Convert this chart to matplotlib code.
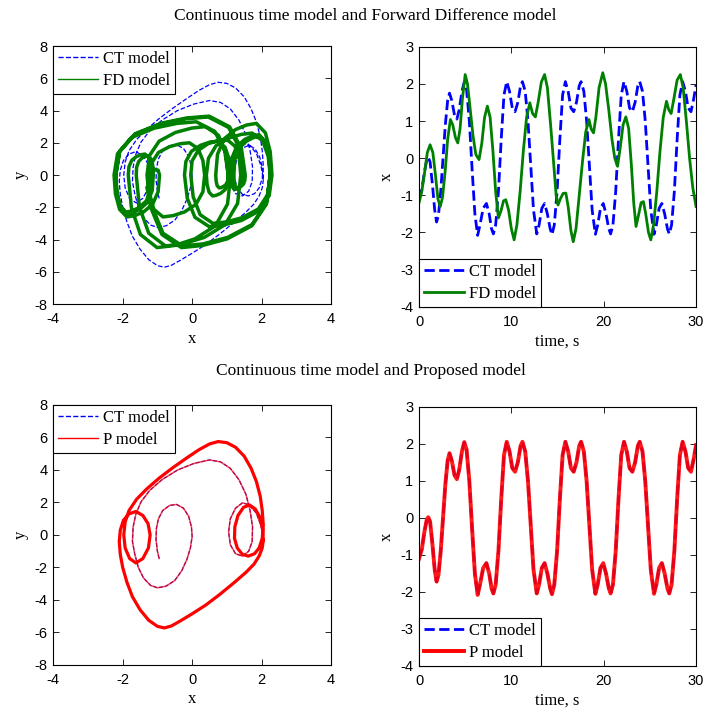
import matplotlib
matplotlib.use("Agg")
import matplotlib.pyplot as plt

plt.rcParams['font.family'] = 'Liberation Serif'
plt.rcParams['axes.unicode_minus'] = False

# ---- time series, continuous time model (same in both rows) ----
ct_t = [0.0, 0.3, 0.6, 0.85, 1.0, 1.2, 1.45, 1.7, 1.9, 2.1, 2.35, 2.6, 2.85, 3.1, 3.3,
        3.55, 3.85, 4.1, 4.35, 4.65, 4.9, 5.15, 5.45, 5.75, 6.05, 6.35, 6.6, 6.95, 7.3,
        7.6, 7.85, 8.05, 8.3, 8.6, 8.9, 9.2, 9.5, 9.8, 10.1, 10.4, 10.7, 11.0, 11.2, 11.5,
        11.8, 12.1, 12.4, 12.75, 13.0, 13.3, 13.6, 13.9, 14.2, 14.4, 14.65, 14.95, 15.25,
        15.55, 15.85, 16.15, 16.45, 16.75, 17.05, 17.35, 17.55, 17.85, 18.15, 18.45, 18.75,
        19.1, 19.35, 19.65, 19.95, 20.25, 20.55, 20.75, 21.0, 21.3, 21.6, 21.9, 22.2, 22.5,
        22.8, 23.1, 23.4, 23.7, 23.9, 24.2, 24.5, 24.8, 25.1, 25.45, 25.7, 26.0, 26.3, 26.6,
        26.9, 27.1, 27.35, 27.65, 27.95, 28.25, 28.55, 28.85, 29.15, 29.45, 29.75, 30.0]
ct_x = [-1.1, -0.85, -0.35, -0.03, 0.02, -0.1, -0.7, -1.4, -1.72, -1.55, -0.9, 0.0, 0.9, 1.55, 1.75,
        1.55, 1.15, 1.05, 1.3, 1.8, 2.05, 1.85, 1.0, -0.3, -1.5, -2.08, -1.8, -1.35, -1.22,
        -1.5, -1.9, -2.04, -1.8, -0.9, 0.5, 1.7, 2.06, 1.8, 1.35, 1.25, 1.5, 1.95, 2.06, 1.8,
        1.0, -0.2, -1.4, -2.04, -1.8, -1.35, -1.22, -1.5, -1.9, -2.06, -1.8, -0.9, 0.5,
        1.7, 2.06, 1.8, 1.35, 1.25, 1.5, 1.95, 2.06, 1.8, 1.0, -0.2, -1.4,
        -2.05, -1.8, -1.35, -1.22, -1.5, -1.9, -2.04, -1.8, -0.9, 0.5, 1.7, 2.06, 1.8,
        1.35, 1.25, 1.5, 1.95, 2.06, 1.8, 1.0, -0.2, -1.4, -2.05, -1.8, -1.35, -1.22, -1.5,
        -1.9, -2.04, -1.8, -0.9, 0.5, 1.7, 2.06, 1.8, 1.35, 1.25, 1.6, 1.97]

# ---- time series, forward difference model ----
fd_t = [0.0, 0.3, 0.6, 0.9, 1.2, 1.5, 1.8, 2.05, 2.3, 2.55, 2.85, 3.1, 3.4, 3.65, 3.95,
        4.2, 4.45, 4.7, 5.0, 5.25, 5.55, 5.85, 6.15, 6.5, 6.8, 7.1, 7.4, 7.7, 8.0, 8.3,
        8.6, 8.9, 9.15, 9.4, 9.7, 10.0, 10.3, 10.6, 10.95, 11.3, 11.65, 12.0, 12.3, 12.6,
        12.9, 13.25, 13.6, 13.9, 14.25, 14.6, 14.85, 15.05, 15.3, 15.6, 15.9, 16.15, 16.45,
        16.7, 17.0, 17.35, 17.7, 18.05, 18.4, 18.65, 18.9, 19.15, 19.5, 19.9, 20.2, 20.55,
        20.9, 21.2, 21.5, 21.8, 22.1, 22.4, 22.7, 23.0, 23.25, 23.5, 23.8, 24.05, 24.3,
        24.55, 24.85, 25.1, 25.4, 25.75, 26.1, 26.45, 26.8, 27.05, 27.3, 27.6, 27.95,
        28.3, 28.6, 28.95, 29.3, 29.65, 30.0]
fd_x = [-1.2, -0.9, -0.4, 0.15, 0.36, 0.15, -0.5, -1.1, -1.3, -1.05, -0.3, 0.5, 1.04, 0.9, 0.55,
        0.41, 0.8, 1.6, 2.25, 2.0, 1.3, 0.6, 0.1, -0.04, 0.4, 1.1, 1.4, 1.1, 0.2, -0.9,
        -1.61, -1.4, -1.15, -1.12, -1.4, -1.9, -2.2, -1.8, -0.9, 0.2, 1.1, 1.49, 1.2, 1.11,
        1.5, 2.05, 2.25, 1.9, 0.9, -0.2, -1.0, -1.26, -1.1, -0.95, -0.94, -1.3, -1.95,
        -2.25, -1.9, -1.0, -0.1, 0.7, 1.04, 0.78, 0.68, 1.1, 1.9, 2.3, 2.0, 1.3,
        0.5, 0.0, -0.22, 0.3, 0.9, 1.11, 0.8, -0.2, -1.2, -1.84, -1.5, -1.2, -1.17,
        -1.5, -2.0, -2.2, -1.8, -0.9, 0.2, 1.1, 1.53, 1.3, 1.2, 1.6, 2.1,
        2.25, 1.9, 1.0, 0.0, -0.8, -1.3]

# ---- phase portrait, continuous time model: transient part ----
ct_px = [-0.95, -1.0, -1.04, -1.03, -0.97, -0.85, -0.65, -0.45, -0.25, -0.1, -0.02, 0.0, -0.05,
         -0.15, -0.3, -0.5, -0.75, -1.0, -1.2, -1.4, -1.55, -1.65, -1.72, -1.7, -1.62, -1.47,
         -1.22, -0.87, -0.42, 0.05, 0.5, 0.82, 1.1, 1.35, 1.55, 1.67, 1.74, 1.73, 1.63, 1.45,
         1.25, 1.1, 1.05, 1.1, 1.25, 1.45, 1.65, 1.85, 1.98, 2.05]
ct_py = [-1.45, -1.0, -0.3, 0.4, 1.0, 1.5, 1.82, 1.88, 1.65, 1.15, 0.5, -0.1, -0.8,
         -1.5, -2.2, -2.8, -3.15, -3.25, -3.1, -2.65, -2.0, -1.2, -0.4, 0.5, 1.3, 2.05,
         2.75, 3.4, 4.0, 4.4, 4.62, 4.5, 4.1, 3.4, 2.5, 1.5, 0.5, -0.4, -1.0, -1.3,
         -1.15, -0.6, 0.2, 1.0, 1.65, 1.98, 1.85, 1.35, 0.6, -0.2]
# ---- phase portrait, continuous time model: periodic orbit ----
cyc_px = [2.05, 2.02, 1.93, 1.78, 1.55, 1.2, 0.8, 0.4, 0.0, -0.35, -0.6, -0.8, -1.0, -1.25,
          -1.5, -1.72, -1.88, -2.0, -2.07, -2.1, -2.07, -1.98, -1.82, -1.62, -1.42, -1.27,
          -1.21, -1.26, -1.42, -1.62, -1.8, -1.93, -1.97, -1.93, -1.82, -1.6, -1.3, -0.95,
          -0.55, -0.15, 0.2, 0.5, 0.75, 1.0, 1.25, 1.5, 1.7, 1.85, 1.96, 2.02, 2.05, 2.02,
          1.93, 1.8, 1.62, 1.45, 1.3, 1.22, 1.23, 1.32, 1.48, 1.65, 1.82, 1.95, 2.03, 2.05]
cyc_py = [-0.3, -0.8, -1.3, -1.8, -2.3, -2.95, -3.65, -4.3, -4.85, -5.3, -5.6, -5.72, -5.62,
          -5.25, -4.6, -3.8, -2.9, -2.0, -1.2, -0.4, 0.3, 0.9, 1.3, 1.45, 1.2, 0.7,
          0.0, -0.8, -1.45, -1.72, -1.45, -0.8, 0.0, 0.8, 1.5, 2.2, 2.85, 3.5,
          4.15, 4.75, 5.25, 5.6, 5.75, 5.68, 5.4, 4.85, 4.1, 3.3, 2.4, 1.5, 0.6, -0.2,
          -0.8, -1.15, -1.3, -1.2, -0.8, -0.2, 0.5, 1.2, 1.7, 1.85, 1.6, 1.1, 0.4, -0.3]

# ---- phase portrait, forward difference model ----
fd_px = [-1.2, -1.15, -0.97, -0.65, -0.34, -0.08, 0.17, 0.31, 0.36,
         0.31, 0.11, -0.22, -0.55, -0.84, -1.10, -1.25, -1.3,
         -1.23, -0.95, -0.48, -0.01, 0.38, 0.76, 0.97, 1.04,
         1.02, 0.95, 0.82, 0.69, 0.59, 0.49, 0.43, 0.41,
         0.47, 0.69, 1.05, 1.42, 1.73, 2.03, 2.19, 2.25,
         2.18, 1.91, 1.45, 0.99, 0.6, 0.23, 0.03, -0.04,
         0.0, 0.18, 0.46, 0.75, 1.0, 1.23, 1.36, 1.4,
         1.31, 0.95, 0.35, -0.26, -0.77, -1.25, -1.52, -1.61,
         -1.6, -1.54, -1.44, -1.34, -1.26, -1.18, -1.13, -1.12,
         -1.15, -1.28, -1.5, -1.71, -1.9, -2.07, -2.17, -2.2,
         -2.09, -1.65, -0.91, -0.17, 0.46, 1.05, 1.38, 1.49,
         1.48, 1.43, 1.36, 1.28, 1.22, 1.16, 1.12, 1.11,
         1.14, 1.28, 1.51, 1.74, 1.93, 2.11, 2.22, 2.25,
         2.14, 1.72, 1.02, 0.32, -0.28, -0.84, -1.15, -1.26,
         -1.2, -1.08, -0.98, -0.94,
         -0.98, -1.14, -1.4, -1.66, -1.88, -2.09, -2.21, -2.25,
         -2.15, -1.76, -1.1, -0.44, 0.12, 0.65, 0.94, 1.04,
         1.03, 0.99, 0.91, 0.84, 0.78, 0.72, 0.69, 0.68,
         0.73, 0.92, 1.25, 1.57, 1.85, 2.11, 2.25, 2.3,
         2.22, 1.92, 1.42, 0.91, 0.49, 0.08, -0.14, -0.22,
         -0.18, -0.02, 0.25, 0.51, 0.74, 0.95, 1.07, 1.11,
         1.02, 0.67, 0.08, -0.51, -1.01, -1.49, -1.75, -1.84,
         -1.82, -1.74, -1.61, -1.47, -1.36, -1.25, -1.19, -1.17,
         -1.2, -1.32, -1.53, -1.74, -1.91, -2.08, -2.17, -2.2,
         -2.09, -1.64, -0.89, -0.15, 0.49, 1.08, 1.42, 1.53,
         1.52, 1.48, 1.41, 1.35, 1.29, 1.24, 1.21, 1.2,
         1.23, 1.36, 1.57, 1.78, 1.96, 2.12, 2.22, 2.25,
         2.14, 1.72, 1.01, 0.3, -0.31, -0.87, -1.19, -1.3]
fd_py = [0.0, 0.8, 1.4, 1.76, 1.94, 2.0, 1.64, 0.9, 0.0,
         -1.04, -1.82, -2.29, -2.52, -2.6, -2.13, -1.17, 0.0,
         1.2, 2.1, 2.64, 2.91, 3.0, 2.46, 1.35, 0.0,
         -0.52, -0.91, -1.14, -1.26, -1.3, -1.07, -0.59, 0.0,
         1.04, 1.82, 2.29, 2.52, 2.6, 2.13, 1.17, 0.0,
         -1.2, -2.1, -2.64, -2.91, -3.0, -2.46, -1.35, 0.0,
         0.88, 1.54, 1.94, 2.13, 2.2, 1.8, 0.99, 0.0,
         -1.76, -3.08, -3.87, -4.27, -4.4, -3.61, -1.98, 0.0,
         0.48, 0.84, 1.06, 1.16, 1.2, 0.98, 0.54, 0.0,
         -0.96, -1.68, -2.11, -2.33, -2.4, -1.97, -1.08, 0.0,
         1.44, 2.52, 3.17, 3.49, 3.6, 2.95, 1.62, 0.0,
         -0.36, -0.63, -0.79, -0.87, -0.9, -0.74, -0.41, 0.0,
         1.0, 1.75, 2.2, 2.43, 2.5, 2.05, 1.13, 0.0,
         -1.76, -3.08, -3.87, -4.27, -4.4, -3.61, -1.98, -0.6,
         0.0, 0.35, 0.3, 0.0,
         -1.04, -1.82, -2.29, -2.52, -2.6, -2.13, -1.17, 0.0,
         1.32, 2.31, 2.9, 3.2, 3.3, 2.71, 1.49, 0.0,
         -0.32, -0.56, -0.7, -0.78, -0.8, -0.66, -0.36, 0.0,
         1.28, 2.24, 2.82, 3.1, 3.2, 2.62, 1.44, 0.0,
         -1.28, -2.24, -2.82, -3.1, -3.2, -2.62, -1.44, 0.0,
         0.84, 1.47, 1.85, 2.04, 2.1, 1.72, 0.95, 0.0,
         -1.8, -3.15, -3.96, -4.37, -4.5, -3.69, -2.03, 0.0,
         0.52, 0.91, 1.14, 1.26, 1.3, 1.07, 0.59, 0.0,
         -0.92, -1.61, -2.02, -2.23, -2.3, -1.89, -1.04, 0.0,
         1.46, 2.56, 3.21, 3.54, 3.65, 2.99, 1.64, 0.0,
         -0.32, -0.56, -0.7, -0.78, -0.8, -0.66, -0.36, 0.0,
         0.96, 1.68, 2.11, 2.33, 2.4, 1.97, 1.08, 0.0,
         -1.8, -3.15, -3.96, -4.37, -4.5, -3.69, -2.03, -0.8]

BLUE = '#0000ff'
GREEN = '#008000'
RED = '#ff0000'

fig = plt.figure(figsize=(7.06, 7.11), dpi=100)
ax1 = fig.add_axes([0.0755, 0.5724, 0.3933, 0.3629])
ax2 = fig.add_axes([0.5935, 0.5686, 0.3924, 0.3657])
ax3 = fig.add_axes([0.0755, 0.0647, 0.3933, 0.3657])
ax4 = fig.add_axes([0.5935, 0.0633, 0.3924, 0.3643])


def style(ax, xlim, ylim, xt, yt, xlab, ylab):
    ax.set_xlim(xlim)
    ax.set_ylim(ylim)
    ax.set_xticks(xt)
    ax.set_yticks(yt)
    ax.tick_params(direction='in', top=True, right=True, length=4, width=0.6,
                   labelsize=10.5)
    ax.tick_params(axis='x', pad=6)
    ax.tick_params(axis='y', pad=4)
    for lab in ax.get_xticklabels() + ax.get_yticklabels():
        lab.set_family('Liberation Sans')
    for s in ax.spines.values():
        s.set_linewidth(0.8)
    ax.set_xlabel(xlab, fontsize=12, labelpad=3)
    ax.set_ylabel(ylab, fontsize=12, labelpad=4)


def legend(ax, loc):
    leg = ax.legend(loc=loc, fontsize=12, borderaxespad=0, fancybox=False,
                    edgecolor='black', framealpha=1, handlelength=2.4,
                    borderpad=0.3, labelspacing=0.35, handletextpad=0.3)
    leg.get_frame().set_linewidth(0.8)
    return leg


# top left: phase portrait CT vs FD
ax1.plot(ct_px + cyc_px, ct_py + cyc_py, '--', color=BLUE, lw=0.9, label='CT model')
ax1.plot(fd_px, fd_py, '-', color=GREEN, lw=2.5, label='FD model')
style(ax1, (-4, 4), (-8, 8), [-4, -2, 0, 2, 4], range(-8, 9, 2), 'x', 'y')
leg = legend(ax1, 'upper left')
for h in leg.get_lines():
    h.set_linewidth(1.0)

# top right: time series CT vs FD
ax2.plot(ct_t, ct_x, '--', color=BLUE, lw=2, label='CT model')
ax2.plot(fd_t, fd_x, '-', color=GREEN, lw=2, label='FD model')
style(ax2, (0, 30), (-4, 3), [0, 10, 20, 30], range(-4, 4), 'time, s', 'x')
legend(ax2, 'lower left')

# bottom left: phase portrait CT vs P
ax3.plot(ct_px + cyc_px, ct_py + cyc_py, '--', color=BLUE, lw=0.8, label='CT model')
ax3.plot(ct_px + cyc_px, ct_py + cyc_py, '-', color=RED, lw=1.1, alpha=0.7, label='P model')
ax3.plot(cyc_px, cyc_py, '-', color=RED, lw=2.3)
style(ax3, (-4, 4), (-8, 8), [-4, -2, 0, 2, 4], range(-8, 9, 2), 'x', 'y')
leg = legend(ax3, 'upper left')
for h in leg.get_lines():
    h.set_linewidth(1.0)
    h.set_alpha(1)

# bottom right: time series CT vs P
ax4.plot(ct_t, ct_x, '--', color=BLUE, lw=2, label='CT model')
ax4.plot(ct_t, ct_x, '-', color=RED, lw=2.8, alpha=0.9, label='P model')
style(ax4, (0, 30), (-4, 3), [0, 10, 20, 30], range(-4, 4), 'time, s', 'x')
leg = legend(ax4, 'lower left')
leg.get_lines()[1].set_alpha(1)

fig.text(0.517, 0.977, 'Continuous time model and Forward Difference model',
         ha='center', va='center', fontsize=12.5)
fig.text(0.525, 0.478, 'Continuous time model and Proposed model',
         ha='center', va='center', fontsize=12.5)

fig.savefig('out.png', dpi=100)
